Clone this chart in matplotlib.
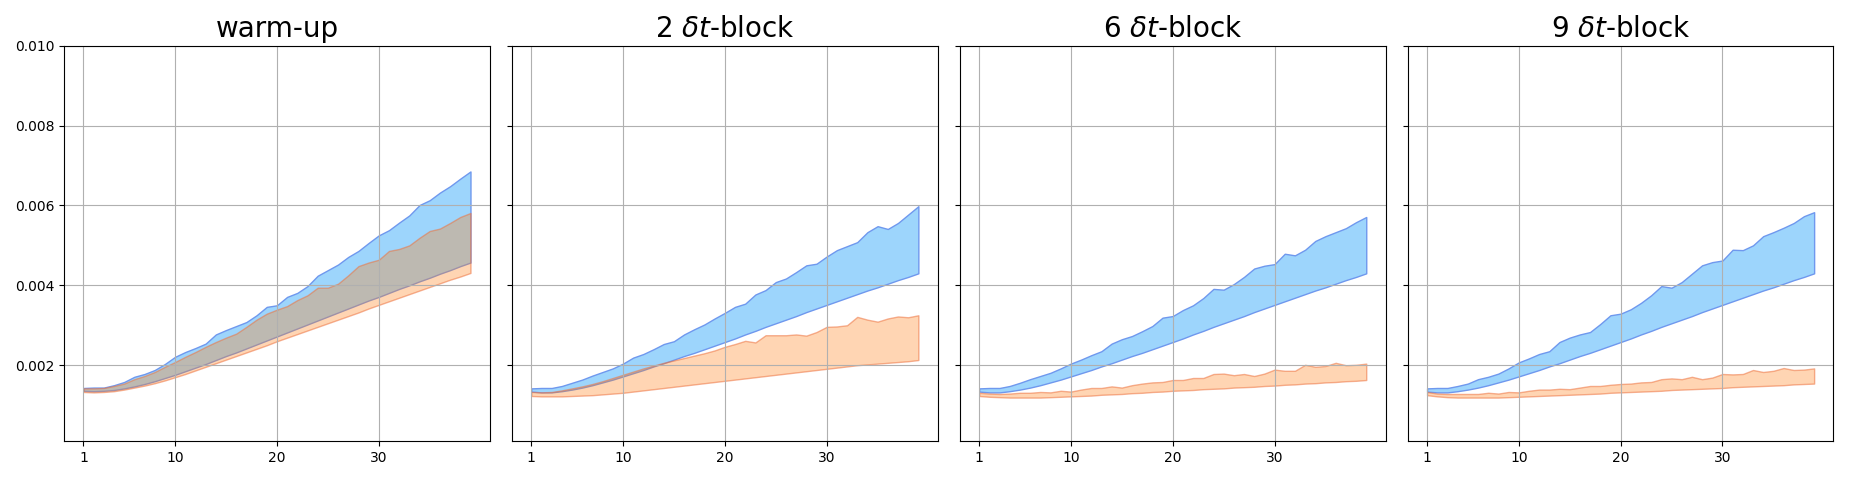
import numpy as np
import matplotlib
matplotlib.use("Agg")
import matplotlib.pyplot as plt

# values in units of 1e-3
steps = np.arange(1, 40)
titles = ["warm-up", r"2 $\delta t$-block", r"6 $\delta t$-block", r"9 $\delta t$-block"]

warm_blue_lo = [1.36, 1.35, 1.36, 1.38, 1.42, 1.47, 1.53, 1.60, 1.68, 1.76,
                1.85, 1.94, 2.03, 2.13, 2.23, 2.32, 2.42, 2.52, 2.62, 2.72,
                2.82, 2.92, 3.02, 3.12, 3.22, 3.32, 3.42, 3.52, 3.62, 3.71,
                3.81, 3.91, 4.00, 4.10, 4.19, 4.29, 4.38, 4.48, 4.57]
warm_blue_hi = [1.43, 1.44, 1.44, 1.50, 1.58, 1.71, 1.78, 1.88, 2.03, 2.21,
                2.33, 2.43, 2.54, 2.77, 2.88, 2.98, 3.08, 3.25, 3.46, 3.50,
                3.71, 3.81, 3.98, 4.24, 4.38, 4.52, 4.71, 4.86, 5.06, 5.25,
                5.38, 5.57, 5.75, 6.01, 6.13, 6.32, 6.48, 6.67, 6.85]
warm_orange_lo = [1.33, 1.32, 1.33, 1.35, 1.39, 1.44, 1.49, 1.55, 1.62, 1.70,
                  1.78, 1.87, 1.96, 2.05, 2.14, 2.23, 2.32, 2.41, 2.50, 2.60,
                  2.69, 2.78, 2.87, 2.96, 3.05, 3.14, 3.23, 3.32, 3.42, 3.51,
                  3.60, 3.69, 3.78, 3.87, 3.96, 4.05, 4.14, 4.22, 4.31]
warm_orange_hi = [1.42, 1.42, 1.43, 1.48, 1.54, 1.65, 1.73, 1.83, 1.96, 2.08,
                  2.21, 2.33, 2.46, 2.58, 2.69, 2.79, 2.96, 3.14, 3.29, 3.39,
                  3.48, 3.63, 3.75, 3.94, 3.94, 4.04, 4.25, 4.48, 4.57, 4.64,
                  4.86, 4.91, 5.00, 5.19, 5.36, 5.42, 5.56, 5.71, 5.81]

# lower blue bound is the same for the block runs
block_blue_lo = [1.34, 1.32, 1.32, 1.35, 1.39, 1.44, 1.50, 1.57, 1.64, 1.72,
                 1.80, 1.88, 1.97, 2.05, 2.14, 2.23, 2.31, 2.40, 2.49, 2.58,
                 2.67, 2.77, 2.86, 2.96, 3.05, 3.14, 3.23, 3.33, 3.42, 3.51,
                 3.60, 3.69, 3.78, 3.87, 3.95, 4.04, 4.13, 4.21, 4.30]

b2_blue_hi = [1.42, 1.43, 1.43, 1.48, 1.56, 1.64, 1.74, 1.83, 1.92, 2.04,
              2.19, 2.28, 2.40, 2.53, 2.60, 2.77, 2.90, 3.02, 3.17, 3.31,
              3.46, 3.54, 3.77, 3.88, 4.08, 4.17, 4.33, 4.50, 4.54, 4.72,
              4.88, 4.98, 5.08, 5.33, 5.48, 5.41, 5.56, 5.77, 5.98]
b2_orange_lo = [1.23, 1.22, 1.22, 1.22, 1.23, 1.24, 1.25, 1.27, 1.29, 1.31,
                1.34, 1.37, 1.40, 1.43, 1.46, 1.49, 1.52, 1.55, 1.58, 1.61,
                1.64, 1.67, 1.70, 1.73, 1.76, 1.79, 1.82, 1.85, 1.88, 1.91,
                1.94, 1.97, 2.00, 2.02, 2.04, 2.06, 2.08, 2.10, 2.13]
b2_orange_hi = [1.33, 1.32, 1.33, 1.37, 1.42, 1.47, 1.53, 1.60, 1.68, 1.76,
                1.84, 1.92, 1.99, 2.06, 2.12, 2.18, 2.24, 2.30, 2.37, 2.46,
                2.53, 2.61, 2.57, 2.75, 2.75, 2.75, 2.77, 2.74, 2.83, 2.96,
                2.97, 3.00, 3.21, 3.14, 3.09, 3.17, 3.22, 3.20, 3.25]

b6_blue_hi = [1.42, 1.43, 1.43, 1.48, 1.56, 1.65, 1.73, 1.81, 1.92, 2.04,
              2.14, 2.25, 2.35, 2.54, 2.65, 2.73, 2.85, 2.98, 3.19, 3.23,
              3.38, 3.50, 3.68, 3.91, 3.89, 4.03, 4.21, 4.42, 4.49, 4.53,
              4.79, 4.75, 4.89, 5.11, 5.23, 5.33, 5.43, 5.58, 5.71]
b6_orange_lo = [1.23, 1.21, 1.20, 1.19, 1.19, 1.19, 1.19, 1.20, 1.21, 1.22,
                1.23, 1.24, 1.26, 1.27, 1.28, 1.30, 1.31, 1.33, 1.34, 1.36,
                1.37, 1.38, 1.40, 1.41, 1.42, 1.44, 1.45, 1.46, 1.48, 1.49,
                1.51, 1.52, 1.54, 1.55, 1.57, 1.58, 1.60, 1.61, 1.63]
b6_orange_hi = [1.31, 1.29, 1.28, 1.29, 1.31, 1.31, 1.33, 1.32, 1.36, 1.34,
                1.39, 1.43, 1.43, 1.47, 1.44, 1.50, 1.54, 1.57, 1.58, 1.63,
                1.63, 1.68, 1.68, 1.78, 1.79, 1.75, 1.78, 1.73, 1.79, 1.89,
                1.86, 1.86, 2.01, 1.96, 1.98, 2.06, 2.00, 2.01, 2.04]

b9_blue_hi = [1.42, 1.43, 1.43, 1.48, 1.54, 1.65, 1.71, 1.79, 1.92, 2.07,
              2.17, 2.28, 2.35, 2.58, 2.69, 2.77, 2.83, 3.03, 3.25, 3.29,
              3.40, 3.56, 3.75, 3.98, 3.94, 4.08, 4.29, 4.50, 4.58, 4.62,
              4.89, 4.88, 5.00, 5.23, 5.33, 5.44, 5.56, 5.73, 5.83]
b9_orange_lo = [1.25, 1.22, 1.20, 1.19, 1.19, 1.19, 1.19, 1.19, 1.20, 1.21,
                1.22, 1.23, 1.24, 1.25, 1.26, 1.27, 1.28, 1.29, 1.31, 1.32,
                1.33, 1.34, 1.35, 1.36, 1.38, 1.39, 1.40, 1.41, 1.42, 1.43,
                1.45, 1.46, 1.47, 1.48, 1.49, 1.50, 1.52, 1.53, 1.54]
b9_orange_hi = [1.33, 1.29, 1.28, 1.28, 1.28, 1.28, 1.31, 1.29, 1.33, 1.32,
                1.36, 1.39, 1.39, 1.41, 1.40, 1.44, 1.48, 1.48, 1.51, 1.53,
                1.54, 1.57, 1.58, 1.65, 1.67, 1.65, 1.71, 1.65, 1.69, 1.78,
                1.77, 1.78, 1.88, 1.83, 1.86, 1.93, 1.88, 1.89, 1.92]

panels = [
    (warm_blue_lo, warm_blue_hi, warm_orange_lo, warm_orange_hi),
    (block_blue_lo, b2_blue_hi, b2_orange_lo, b2_orange_hi),
    (block_blue_lo, b6_blue_hi, b6_orange_lo, b6_orange_hi),
    (block_blue_lo, b9_blue_hi, b9_orange_lo, b9_orange_hi),
]

fig, axes = plt.subplots(1, 4, figsize=(18.52, 4.8), dpi=100, sharey=True)
fig.subplots_adjust(left=0.0346, right=0.990, top=0.905, bottom=0.081, wspace=0.052)

for ax, title, (blo, bhi, olo, ohi) in zip(axes, titles, panels):
    ax.fill_between(steps, np.array(blo) * 1e-3, np.array(bhi) * 1e-3,
                    facecolor="#9dd5fc", edgecolor="#6f98ee", linewidth=1.0)
    ax.fill_between(steps, np.array(olo) * 1e-3, np.array(ohi) * 1e-3,
                    facecolor=(1.0, 0.51, 0.1, 0.33), edgecolor=(0.93, 0.45, 0.25, 0.55),
                    linewidth=1.0)
    ax.set_title(title, fontsize=20)
    ax.set_xticks([1, 10, 20, 30])
    ax.set_ylim(0.0001, 0.010)
    ax.set_yticks([0.002, 0.004, 0.006, 0.008, 0.010])
    ax.grid(True)

axes[0].yaxis.set_major_formatter(matplotlib.ticker.FormatStrFormatter("%.3f"))

fig.savefig("out.png", dpi=100)
